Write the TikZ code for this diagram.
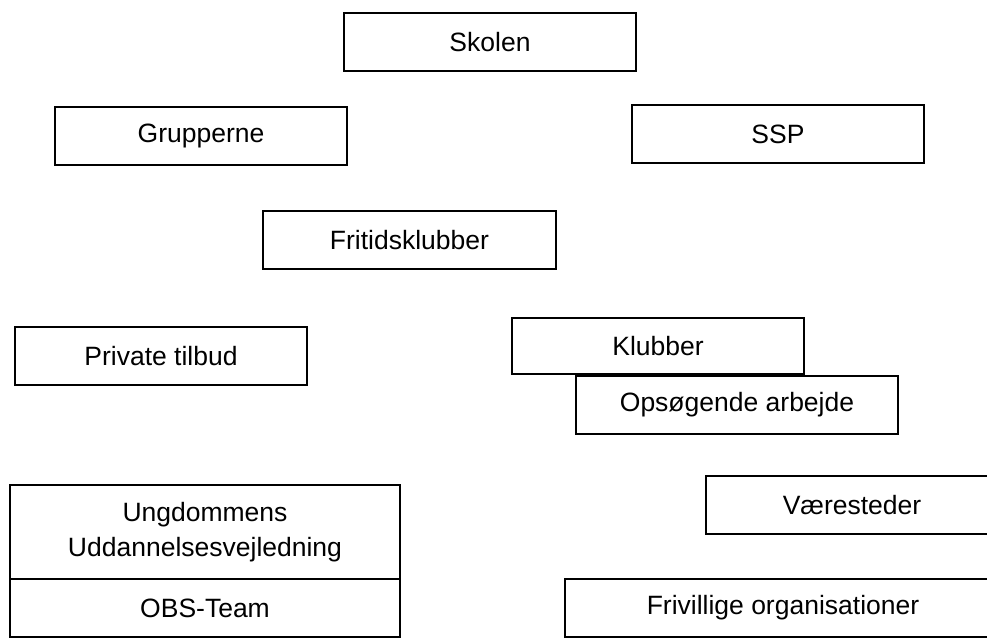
\documentclass[tikz,border=0pt]{standalone}
\usepackage{fontspec}
\setmainfont{Liberation Sans}
\begin{document}
\begin{tikzpicture}[x=1pt, y=-1pt,
  boks/.style={draw, line width=1.6pt, minimum width=292pt, minimum height=58pt,
    inner sep=0pt, align=center, font=\fontsize{26.5}{35}\selectfont}]
\clip (0,0) rectangle (987,637);
\node[boks] (skolen) at (490,42) {Skolen};
\node[boks] (grupperne) at (201,136) {Grupperne};
\node[boks] (ssp) at (778,134) {SSP};
\node[boks, minimum width=293pt] (fritid) at (409.5,240) {Fritidsklubber};
\node[boks] (privat) at (161,356) {Private tilbud};

\node[boks, minimum height=56pt] (klubber) at (658,346) {Klubber};
\node[boks, minimum width=322pt] (opsoeg) at (737,405) {Opsøgende arbejde};

\node[boks, minimum width=390pt, minimum height=94pt] (uu) at (205,532) {Ungdommens\\Uddannelsesvejledning};
\node[boks, minimum width=390pt] (obs) at (205,608) {OBS-Team};

\node[boks] (vaere) at (852,505) {Væresteder};
\node[boks, minimum width=436pt] (frivillig) at (783,608) {Frivillige organisationer};
\end{tikzpicture}
\end{document}
